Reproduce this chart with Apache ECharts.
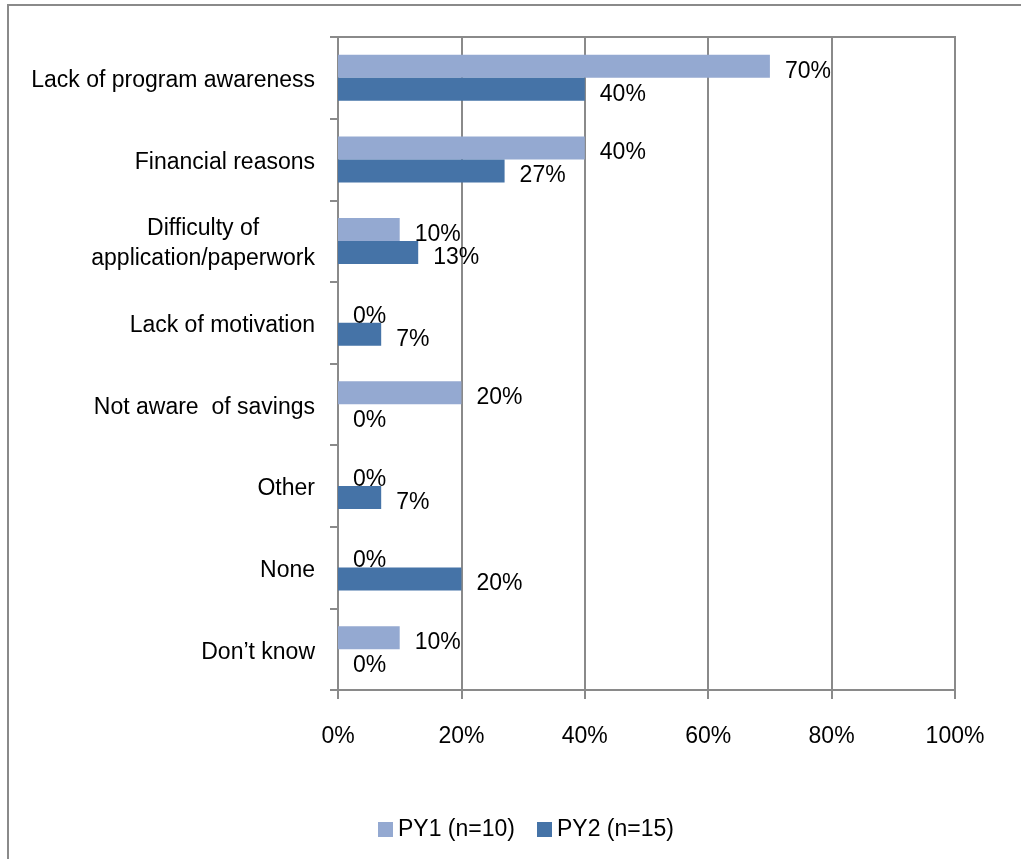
<!DOCTYPE html>
<html>
<head>
<meta charset="utf-8">
<script src="https://cdn.jsdelivr.net/npm/echarts@6/dist/echarts.min.js"></script>
<style>
  html, body { margin: 0; padding: 0; background: #fff; }
  #chart { width: 1021px; height: 859px; }
</style>
</head>
<body>
<div id="chart"></div>
<script>
// Reasons for not participating, share of respondents by program year
const categories = [
  'Lack of program awareness',
  'Financial reasons',
  'Difficulty of\napplication/paperwork',
  'Lack of motivation',
  'Not aware  of savings',
  'Other',
  'None',
  'Don\u2019t know'
];
const py1Values = [70, 40, 10, 0, 20, 0, 0, 10];
const py2Values = [40, 27, 13, 7, 0, 7, 20, 0];
const seriesNames = ['PY1 (n=10)', 'PY2 (n=15)'];
const axisTicks = [0, 20, 40, 60, 80, 100];

const FONT = '"Liberation Sans", Arial, sans-serif';
const FS = 23;
const GRAY = '#8a8a8a';

const chart = echarts.init(document.getElementById('chart'), null, { renderer: 'canvas' });

const labelStyle = {
  show: true,
  position: 'right',
  distance: 15,
  offset: [0, 5],
  formatter: '{c}%',
  color: '#000',
  fontFamily: FONT,
  fontSize: FS
};

chart.setOption({
  animation: false,
  backgroundColor: '#fff',
  textStyle: { fontFamily: FONT },
  graphic: [{
    type: 'rect',
    shape: { x: 8, y: 5, width: 1100, height: 1000 },
    style: { fill: 'none', stroke: GRAY, lineWidth: 2 },
    silent: true
  }],
  grid: {
    left: 338, top: 37, right: 66, bottom: 169,
    show: true, borderColor: GRAY, borderWidth: 2, backgroundColor: 'transparent'
  },
  legend: {
    left: 373, top: 813,
    itemWidth: 15, itemHeight: 15, itemGap: 22,
    icon: 'rect',
    textStyle: { fontFamily: FONT, fontSize: FS, color: '#000' },
    data: seriesNames
  },
  xAxis: {
    type: 'value',
    min: axisTicks[0], max: axisTicks[axisTicks.length - 1], interval: axisTicks[1] - axisTicks[0],
    axisLine: { show: true, lineStyle: { color: GRAY, width: 2 } },
    axisTick: { show: true, length: 9, lineStyle: { color: GRAY, width: 2 } },
    splitLine: { show: true, lineStyle: { color: GRAY, width: 2 } },
    axisLabel: { formatter: '{value}%', color: '#000', fontFamily: FONT, fontSize: FS, margin: 35 }
  },
  yAxis: {
    type: 'category',
    inverse: true,
    data: categories,
    axisLine: { show: true, lineStyle: { color: GRAY, width: 2 } },
    axisTick: { show: true, length: 8, lineStyle: { color: GRAY, width: 2 } },
    axisLabel: {
      color: '#000', fontFamily: FONT, fontSize: FS, margin: 23, lineHeight: 30, align: 'right',
      padding: [6, 0, 0, 0],
      // multi-line names are centred line by line
      formatter: function (v) {
        return v.split('\n').map(function (s) { return '{c|' + s + '}'; }).join('\n');
      },
      rich: { c: { align: 'center', fontFamily: FONT, fontSize: FS, lineHeight: 30, color: '#000' } }
    }
  },
  series: [
    {
      name: seriesNames[0], type: 'bar', data: py1Values,
      barWidth: 23, barGap: '0%',
      itemStyle: { color: '#94a9d1' },
      label: labelStyle
    },
    {
      name: seriesNames[1], type: 'bar', data: py2Values,
      barWidth: 23, barGap: '0%',
      itemStyle: { color: '#4573a7' },
      label: labelStyle
    }
  ]
});
</script>
</body>
</html>
